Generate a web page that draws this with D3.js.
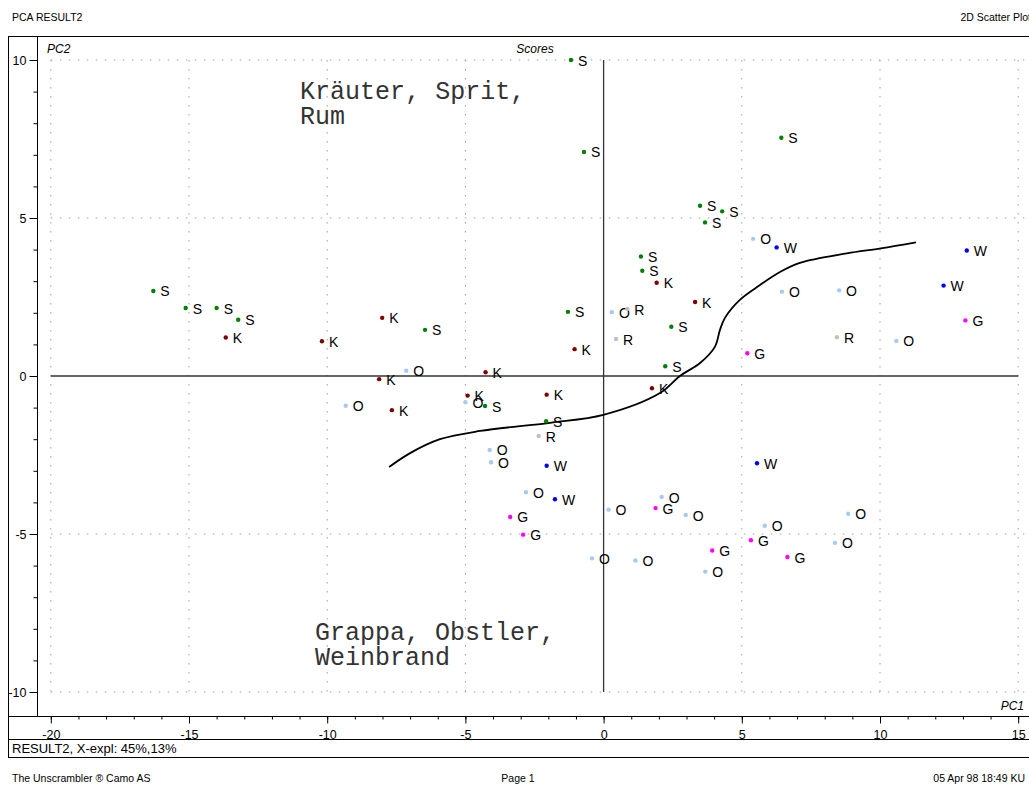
<!DOCTYPE html>
<meta charset="utf-8">
<script src="https://d3js.org/d3.v7.min.js"></script>
<style>
  body { margin: 0; background: #fff; }
  .narrow { font-family: "Liberation Sans Narrow", "Arial Narrow", "Liberation Sans", sans-serif; }
</style>
<div id="chart"></div>
<script>
// PCA scores, one array per product group: [PC1, PC2]
const groups = ["S", "K", "O", "R", "W", "G"]
const groupColors = ["#008000", "#800000", "#a6caf0", "#c0c0c0", "#0000ff", "#ff00ff"]

const scoresS = [[-1.18, 10.0], [-0.71, 7.09], [6.43, 7.54], [3.49, 5.39], [4.29, 5.21], [3.67, 4.86],
  [1.35, 3.78], [1.40, 3.33], [2.45, 1.56], [2.23, 0.31], [-1.29, 2.03], [-16.29, 2.69], [-15.12, 2.15],
  [-14.00, 2.15], [-13.22, 1.78], [-6.46, 1.46], [-4.29, -0.95], [-2.08, -1.43]]
const scoresK = [[-13.67, 1.22], [-10.19, 1.10], [-8.01, 1.84], [-8.12, -0.10], [-7.66, -1.08], [1.92, 2.95],
  [3.31, 2.34], [-1.05, 0.85], [-4.27, 0.12], [1.75, -0.39], [-4.92, -0.62], [-2.06, -0.59]]
const scoresO = [[-7.14, 0.17], [-9.33, -0.94], [0.30, 2.02], [5.41, 4.34], [6.45, 2.67], [8.52, 2.71],
  [10.59, 1.11], [-5.00, -0.83], [-4.12, -2.34], [-4.07, -2.73], [-2.81, -3.68], [0.18, -4.23], [2.10, -3.83],
  [2.97, -4.40], [5.83, -4.74], [8.85, -4.36], [8.37, -5.28], [3.68, -6.19], [1.15, -5.84], [-0.42, -5.77]]
const scoresR = [[0.86, 2.12], [0.45, 1.17], [8.44, 1.23], [-2.35, -1.90]]
const scoresW = [[6.26, 4.07], [13.14, 3.97], [12.30, 2.86], [-2.06, -2.84], [-1.76, -3.90], [5.55, -2.76]]
const scoresG = [[5.20, 0.72], [13.09, 1.76], [-3.38, -4.46], [-2.91, -5.02], [1.88, -4.18], [5.33, -5.20],
  [6.65, -5.73], [3.93, -5.52]]

// hand drawn separation line
const boundary = [[-7.76, -2.88], [-7.00, -2.44], [-5.92, -2.00], [-4.47, -1.74], [-1.94, -1.48], [-0.01, -1.23],
  [2.04, -0.54], [2.76, 0.00], [3.49, 0.41], [4.03, 0.93], [4.21, 1.46], [4.39, 1.84], [4.93, 2.41],
  [5.66, 2.88], [6.38, 3.29], [7.10, 3.58], [8.80, 3.88], [10.03, 4.04], [11.30, 4.23]]

const xTicks = [-20, -15, -10, -5, 0, 5, 10, 15]
const yTicks = [-10, -5, 0, 5, 10]
const notes = [
  {lines: ["Kräuter, Sprit,", "Rum"], x: -10.98, y: 8.77},
  {lines: ["Grappa, Obstler,", "Weinbrand"], x: -10.44, y: -8.35}
]

const width = 1029
const height = 787
const frame = {left: 8.5, top: 36.5, axisX: 37.5, axisY: 716.5, capTop: 739.5, bottom: 757.5}

const svg = d3.select("#chart")
  .append("svg")
  .attr("width", width)
  .attr("height", height)

const x = d3.scaleLinear().domain([-20, 15]).range([50.8, 1018.2])
const y = d3.scaleLinear().domain([-10, 10]).range([692, 60])

// header + footer
svg.append("text").attr("class", "narrow").attr("x", 12).attr("y", 21)
  .style("font-size", "10.5px").text("PCA RESULT2")
svg.append("text").attr("class", "narrow").attr("x", 1031).attr("y", 21).attr("text-anchor", "end")
  .style("font-size", "10.5px").text("2D Scatter Plot")
svg.append("text").attr("class", "narrow").attr("x", 12).attr("y", 782)
  .style("font-size", "10.5px").text("The Unscrambler ® Camo AS")
svg.append("text").attr("class", "narrow").attr("x", 518).attr("y", 782).attr("text-anchor", "middle")
  .style("font-size", "10.5px").text("Page 1")
svg.append("text").attr("class", "narrow").attr("x", 1025).attr("y", 782).attr("text-anchor", "end")
  .style("font-size", "10.5px").text("05 Apr 98 18:49 KU")

// frame
const frameG = svg.append("g").attr("stroke", "#000").attr("fill", "none")
frameG.append("rect").attr("x", frame.left).attr("y", frame.top)
  .attr("width", 1040).attr("height", frame.bottom - frame.top)
frameG.append("line").attr("x1", frame.left).attr("x2", 1040).attr("y1", frame.axisY).attr("y2", frame.axisY)
frameG.append("line").attr("x1", frame.left).attr("x2", 1040).attr("y1", frame.capTop).attr("y2", frame.capTop)
frameG.append("line").attr("x1", frame.axisX).attr("x2", frame.axisX).attr("y1", frame.top).attr("y2", frame.axisY)

svg.append("text").attr("class", "narrow").attr("x", 12).attr("y", 753)
  .style("font-size", "13px").text("RESULT2, X-expl: 45%,13%")

// dotted grid
const grid = svg.append("g").attr("stroke", "#a0a0a0").attr("stroke-dasharray", "1.5 7.5")
grid.selectAll(".gx").data(xTicks.filter(d => d !== 0)).join("line")
  .attr("x1", d => x(d)).attr("x2", d => x(d)).attr("y1", y(10)).attr("y2", y(-10))
grid.selectAll(".gy").data(yTicks.filter(d => d !== 0)).join("line")
  .attr("x1", x(-20)).attr("x2", 1029).attr("y1", d => y(d)).attr("y2", d => y(d))

// zero lines
svg.append("line").attr("x1", x(-20)).attr("x2", x(15)).attr("y1", y(0)).attr("y2", y(0))
  .attr("stroke", "#333").attr("stroke-width", 1.3)
svg.append("line").attr("x1", x(0)).attr("x2", x(0)).attr("y1", y(10)).attr("y2", y(-10))
  .attr("stroke", "#333").attr("stroke-width", 1.3)

// axes (plain hyphen minus like the original)
const fmt = d => String(d)
const xAxis = svg.append("g").attr("transform", `translate(0,${frame.axisY})`)
xAxis.call(d3.axisBottom(x).tickValues(d3.range(-20, 16, 1)).tickSize(3).tickFormat(""))
xAxis.append("g").call(d3.axisBottom(x).tickValues(xTicks).tickSize(7).tickFormat(fmt))
xAxis.selectAll(".domain").remove()
xAxis.selectAll("text").attr("class", "narrow").style("font-size", "12.5px").attr("fill", "#000").attr("y", 11).attr("dy", "0.9em")

const yAxis = svg.append("g").attr("transform", `translate(${frame.axisX},0)`)
yAxis.call(d3.axisLeft(y).tickValues(d3.range(-10, 11, 1)).tickSize(4).tickFormat(""))
yAxis.append("g").call(d3.axisLeft(y).tickValues(yTicks).tickSize(8).tickFormat(fmt))
yAxis.selectAll(".domain").remove()
yAxis.selectAll("text").attr("class", "narrow").style("font-size", "12.5px").attr("fill", "#000").attr("x", -11)

// axis titles
svg.append("text").attr("x", 47).attr("y", 53).style("font", "italic 12px 'Liberation Sans', sans-serif").text("PC2")
svg.append("text").attr("x", 535).attr("y", 53).attr("text-anchor", "middle")
  .style("font", "italic 12px 'Liberation Sans', sans-serif").text("Scores")
svg.append("text").attr("x", 1024).attr("y", 710).attr("text-anchor", "end")
  .style("font", "italic 12px 'Liberation Sans', sans-serif").text("PC1")

// separation curve
svg.append("path")
  .datum(boundary)
  .attr("fill", "none")
  .attr("stroke", "#000")
  .attr("stroke-width", 1.8)
  .attr("d", d3.line().x(d => x(d[0])).y(d => y(d[1])).curve(d3.curveCatmullRom.alpha(0.5)))

// annotation text
notes.forEach(n => {
  const t = svg.append("text")
    .attr("x", x(n.x)).attr("y", y(n.y))
    .style("font-family", "'Liberation Mono', 'Courier New', monospace")
    .style("font-size", "25px")
    .attr("fill", "#333")
  n.lines.forEach((l, i) => {
    t.append("tspan").attr("x", x(n.x)).attr("dy", i === 0 ? 0 : 25).text(l)
  })
})

// scores
const allScores = [scoresS, scoresK, scoresO, scoresR, scoresW, scoresG]
const color = d3.scaleOrdinal().domain(groups).range(groupColors)

groups.forEach((g, i) => {
  const pts = svg.append("g")
  pts.selectAll("circle")
    .data(allScores[i])
    .join("circle")
      .attr("cx", d => x(d[0]))
      .attr("cy", d => y(d[1]))
      .attr("r", 2.2)
      .style("fill", color(g))
  pts.selectAll("text")
    .data(allScores[i])
    .join("text")
      .attr("x", d => x(d[0]) + 7)
      .attr("y", d => y(d[1]) + 5.5)
      .style("font-family", "'Liberation Sans', Arial, sans-serif")
      .style("font-size", "14px")
      .text(g)
})
</script>
